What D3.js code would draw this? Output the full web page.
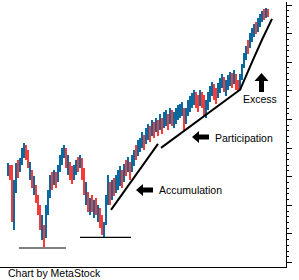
<!DOCTYPE html>
<head>
<meta charset="utf-8">
<title>Chart by MetaStock</title>
<style>
  body { margin: 0; background: #fff; }
  svg { display: block; }
  text { font-family: "Liberation Sans", Arial, sans-serif; font-size: 10.5px; fill: #000; }
</style>
</head>
<body>
<script src="https://d3js.org/d3.v7.min.js"></script>
<script>
// daily bars (price units of the right axis)
let highs = [44.6,44.0,44.0,38.7,44.6,45.7,46.4,49.9,51.6,50.9,49.2,45.0,42.2,40.1,37.0,33.4,29.9,26.5,22.9,29.9,
  35.2,40.5,41.5,42.2,41.5,44.0,47.5,49.9,50.9,49.9,47.5,45.0,43.6,44.0,45.7,46.7,47.5,46.4,42.9,38.0,
  34.5,32.4,33.4,31.7,32.4,29.9,28.9,26.5,24.0,33.4,40.5,38.0,38.7,39.4,40.5,42.2,43.6,42.2,44.3,45.7,
  46.7,45.0,47.5,49.2,50.9,52.7,53.4,55.5,54.4,56.9,58.3,57.6,59.7,59.0,60.4,59.7,61.8,60.4,62.5,63.2,
  61.8,63.9,63.2,62.5,63.9,65.0,65.3,66.0,63.9,63.9,66.7,68.1,69.1,70.2,69.5,68.4,70.2,69.5,68.4,66.7,
  69.5,71.6,73.0,72.3,70.9,72.6,74.4,75.8,74.7,73.7,75.4,76.5,76.1,77.2,75.8,73.7,75.8,79.3,83.1,85.6,
  87.7,90.1,91.9,93.3,94.0,95.4,96.8,97.8,98.5,98.9,98.5];
let lows = [40.1,38.7,24.0,21.2,34.1,39.4,41.5,44.0,46.4,45.7,42.9,38.7,35.9,33.4,30.6,26.5,21.2,17.7,15.2,18.4,
  26.5,32.4,35.2,37.0,35.9,38.0,41.5,44.0,46.4,42.9,40.5,38.7,37.3,38.7,40.5,41.5,42.9,38.7,33.4,29.9,
  27.5,26.5,27.5,25.4,26.5,24.0,21.9,19.5,18.7,22.9,29.9,29.9,31.7,33.1,34.1,35.2,36.6,35.9,38.0,40.1,
  41.5,38.7,41.5,43.6,45.7,47.1,48.5,49.9,49.2,51.3,52.7,52.0,54.1,53.4,55.5,54.1,56.2,54.8,56.9,57.6,
  56.2,58.3,57.6,56.9,58.3,59.7,60.4,61.1,56.2,58.3,61.1,62.5,63.9,65.0,63.9,62.5,64.6,63.9,61.1,60.4,
  63.2,66.0,68.1,66.7,65.3,67.4,69.1,70.9,69.5,68.1,70.2,71.6,70.9,72.3,70.2,69.5,70.2,73.7,77.9,80.7,
  82.8,84.9,87.0,88.7,89.8,90.5,92.2,94.0,94.7,95.4,95.7];
let closes = [42.9,41.5,26.5,35.2,40.5,40.0,44.0,47.5,50.2,48.5,43.2,44.5,38.7,39.8,33.4,29.9,25.4,25.8,18.4,26.5,
  31.7,37.0,36.0,40.5,38.0,41.5,45.0,48.5,49.9,46.4,47.0,42.2,40.1,41.5,43.6,43.0,46.4,42.2,37.0,37.5,
  30.6,31.5,29.0,30.5,27.5,28.5,24.7,21.9,22.5,29.9,37.0,33.4,35.2,34.5,37.6,38.7,40.5,38.7,41.5,41.0,
  44.0,41.5,45.0,46.4,46.0,49.9,50.9,52.7,51.6,54.1,55.5,54.8,56.9,56.2,58.0,56.9,59.0,57.6,59.7,60.4,
  59.0,61.4,60.4,61.0,61.1,62.5,63.2,63.9,59.0,61.4,63.9,65.3,66.7,67.7,66.7,65.6,67.4,66.7,64.6,65.0,
  66.7,69.1,70.9,69.5,68.1,70.2,72.0,73.7,72.3,72.5,73.0,74.4,73.7,75.1,72.3,70.9,73.7,77.2,80.7,83.5,
  83.2,87.7,89.4,91.2,90.5,93.0,94.7,96.1,95.5,97.5,97.1];

// right axis ticks
let majorTicks = d3.range(10, 101, 10);
let minorTicks = d3.range(10, 101, 2).filter(v => v % 10 !== 0);

// trend lines: [bar index, price]
let supportA = [[5.5, 14.9], [29, 14.9]];
let supportB = [[36, 18.6], [61.5, 18.6]];
let accumLine = [[51.5, 28.2], [75, 51.3]];
let partLine = [[76.5, 49.9], [116.5, 70.5]];
let excessLine = [[116, 70.2], [122.5, 80.7], [127, 87.7], [132, 95.0]];

// arrow labels: tip at [bar index, price]
let labels = [
  { text: "Accumulation", at: [64, 35.2], dir: "left" },
  { text: "Participation", at: [92, 53.7], dir: "left" },
  { text: "Excess", at: [126.75, 76.1], dir: "up" }
];

let width = 299, height = 280;
let svg = d3.select("body").append("svg")
  .attr("width", width)
  .attr("height", height);

let x = d3.scaleLinear().domain([0, closes.length - 1]).range([8, 268]);
let y = d3.scaleLinear().domain([8.25, 100.9]).range([267, 2]);

// frame: bottom rule and right axis
svg.append("line")
  .attr("x1", 0).attr("x2", 286)
  .attr("y1", 267.5).attr("y2", 267.5)
  .attr("stroke", "#000");

let axis = d3.axisRight(y).tickValues(majorTicks).tickSize(6).tickFormat("").tickSizeOuter(0);
let axisG = svg.append("g")
  .attr("transform", "translate(285.5,0)")
  .attr("shape-rendering", "crispEdges")
  .call(axis);
axisG.select(".domain").attr("d", "M0.5,2V267.5");
axisG.selectAll(".tick line").attr("x1", 0.5);

let minorAxis = d3.axisRight(y).tickValues(minorTicks).tickSize(3).tickFormat("");
let minorG = svg.append("g")
  .attr("transform", "translate(285.5,0)")
  .attr("shape-rendering", "crispEdges")
  .call(minorAxis);
minorG.select(".domain").remove();
minorG.selectAll(".tick line").attr("x1", 0.5);

// price bars, red when the close is below the previous close
svg.append("g")
  .selectAll("rect")
  .data(closes)
  .join("rect")
  .attr("x", (d, i) => x(i) - 1)
  .attr("width", 2)
  .attr("y", (d, i) => y(highs[i]))
  .attr("height", (d, i) => y(lows[i]) - y(highs[i]))
  .attr("fill", (d, i) => i > 0 && d < closes[i - 1] ? "#f53a3a" : "#0a6aa0")
  .attr("shape-rendering", "crispEdges");

// trend lines
let line = d3.line().x(d => x(d[0])).y(d => y(d[1]));
[supportA, supportB].forEach(pts => {
  svg.append("path").attr("d", line(pts))
    .attr("fill", "none").attr("stroke", "#000").attr("stroke-width", 1.2);
});
[accumLine, partLine, excessLine].forEach(pts => {
  svg.append("path").attr("d", line(pts))
    .attr("fill", "none").attr("stroke", "#000").attr("stroke-width", 2);
});

// arrows with labels
let arrowLeft = "M0,0L7,-6L7,-2.5L17,-2.5L17,2.5L7,2.5L7,6Z";
let arrowUp = "M0,0L-7,8L-2.5,8L-2.5,19L2.5,19L2.5,8L7,8Z";
labels.forEach(l => {
  let g = svg.append("g")
    .attr("transform", `translate(${x(l.at[0])},${y(l.at[1])})`);
  g.append("path").attr("d", l.dir === "left" ? arrowLeft : arrowUp).attr("fill", "#000");
  g.append("text")
    .attr("x", l.dir === "left" ? 23 : -18.5)
    .attr("y", l.dir === "left" ? 4.5 : 30)
    .text(l.text);
});

svg.append("text")
  .attr("x", 8)
  .attr("y", 277)
  .text("Chart by MetaStock");
</script>
</body>
